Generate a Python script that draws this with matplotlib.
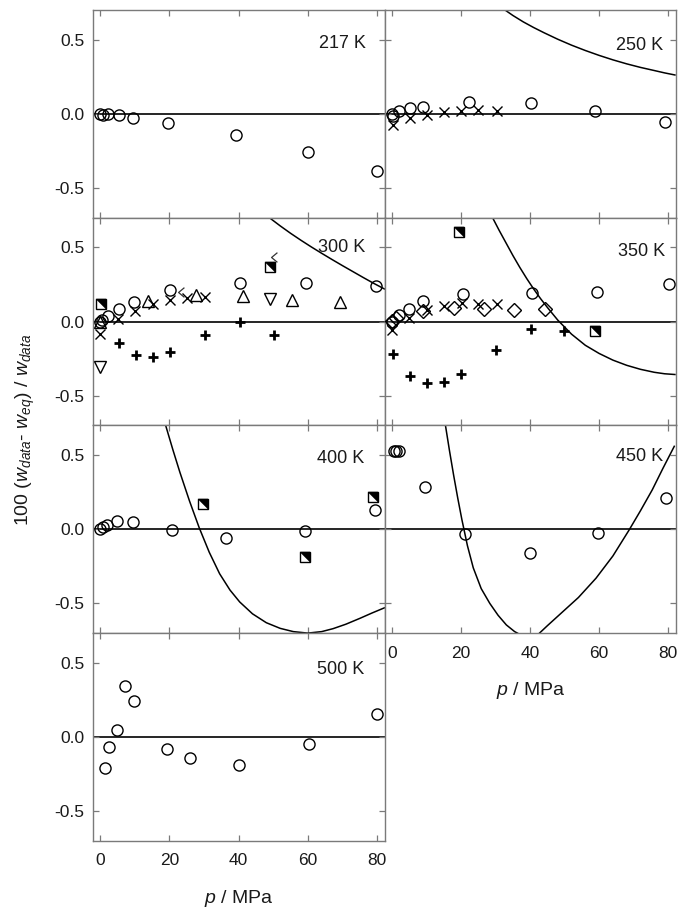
import matplotlib
matplotlib.use('Agg')
import matplotlib.pyplot as plt
from matplotlib.path import Path

plt.rcParams['font.family'] = ['Liberation Sans', 'DejaVu Sans']
plt.rcParams['mathtext.fontset'] = 'custom'
plt.rcParams['mathtext.rm'] = 'Liberation Sans'
plt.rcParams['mathtext.it'] = 'Liberation Sans:italic'

# ---------------- data ----------------
xticks = [0, 20, 40, 60, 80]
yticks = [-0.5, 0.0, 0.5]
yticklabels = ['-0.5', '0.0', '0.5']

# 217 K
p217_o = [0, 0.8, 2.2, 5.4, 9.4, 19.6, 39.1, 60.1, 80.0]
d217_o = [0.0, -0.005, -0.003, -0.01, -0.03, -0.06, -0.145, -0.255, -0.385]

# 250 K
p250_o = [0.0, 0.2, 2.1, 5.1, 8.9, 22.4, 40.1, 58.9, 79.0]
d250_o = [0.0, -0.012, 0.016, 0.038, 0.049, 0.083, 0.072, 0.022, -0.056]
p250_x = [0.2, 5.1, 10.1, 15.1, 19.9, 25.0, 30.3]
d250_x = [-0.074, -0.03, -0.007, 0.01, 0.02, 0.027, 0.016]
p250_c = [31.0, 32.7, 35.0, 38.0, 41.0, 44.0, 48.0, 52.0, 56.0, 60.0, 64.0, 68.0, 72.0, 76.0, 79.0, 82.0]
d250_c = [0.73, 0.70, 0.663, 0.62, 0.582, 0.547, 0.503, 0.463, 0.427, 0.394, 0.364, 0.337, 0.313, 0.292, 0.276, 0.262]

# 300 K
p300_o = [0.0, 0.5, 2.2, 5.4, 9.7, 20.1, 40.3, 59.4, 79.6]
d300_o = [0.0, 0.01, 0.04, 0.083, 0.135, 0.21, 0.257, 0.257, 0.24]
p300_tu = [0.0, 13.8, 27.8, 41.3, 55.3, 69.3]
d300_tu = [0.0, 0.14, 0.18, 0.173, 0.146, 0.135]
p300_td = [0.0, 49.2]
d300_td = [-0.304, 0.151]
p300_x = [0.0, 5.1, 9.9, 15.2, 20.1, 25.1, 30.2]
d300_x = [-0.086, 0.016, 0.068, 0.117, 0.146, 0.158, 0.167]
p300_lt = [23.4, 50.3]
d300_lt = [0.198, 0.432]
p300_p = [5.3, 10.2, 15.2, 20.1, 30.2, 40.3, 50.3]
d300_p = [-0.146, -0.225, -0.236, -0.203, -0.09, -0.005, -0.09]
p300_s = [0.3, 49.2]
d300_s = [0.117, 0.367]
p300_c = [47.5, 49.0, 52.0, 55.0, 58.0, 61.0, 64.0, 67.0, 70.0, 73.0, 76.0, 79.0, 82.1]
d300_c = [0.73, 0.698, 0.645, 0.595, 0.548, 0.503, 0.46, 0.418, 0.377, 0.337, 0.297, 0.258, 0.22]

# 350 K
p350_o = [0.0, 1.9, 4.8, 8.9, 20.6, 40.5, 59.5, 80.4]
d350_o = [0.0, 0.045, 0.086, 0.14, 0.185, 0.19, 0.2, 0.254]
p350_d = [0.0, 1.0, 8.9, 17.8, 26.7, 35.3, 44.2]
d350_d = [0.005, 0.025, 0.068, 0.09, 0.083, 0.079, 0.086]
p350_x = [0.0, 4.8, 10.1, 15.1, 20.2, 25.0, 30.3]
d350_x = [-0.056, 0.023, 0.079, 0.108, 0.124, 0.117, 0.117]
p350_p = [0.2, 5.1, 10.1, 15.1, 20.0, 30.0, 40.1, 49.9]
d350_p = [-0.22, -0.365, -0.417, -0.405, -0.356, -0.191, -0.052, -0.061]
p350_s = [19.5, 58.8]
d350_s = [0.604, -0.061]
p350_c = [28.0, 29.1, 31.0, 33.0, 35.0, 37.0, 39.0, 41.0, 43.0, 45.0, 48.0, 52.0, 56.0, 60.0, 64.0, 68.0, 72.0, 76.0, 79.0, 82.0]
d350_c = [0.75, 0.70, 0.615, 0.53, 0.445, 0.365, 0.29, 0.22, 0.155, 0.095, 0.01, -0.085, -0.16, -0.215, -0.26, -0.295, -0.322, -0.342, -0.352, -0.357]

# 400 K
p400_o = [0.0, 0.8, 1.9, 4.9, 9.5, 20.8, 36.2, 59.3, 79.4]
d400_o = [0.0, 0.016, 0.03, 0.056, 0.052, -0.005, -0.061, -0.009, 0.13]
p400_s = [29.7, 59.1, 78.8]
d400_s = [0.173, -0.187, 0.218]
p400_c = [18.3, 18.9, 21.0, 23.0, 25.8, 28.6, 31.5, 34.5, 37.5, 40.3, 44.0, 48.0, 52.0, 55.8, 60.0, 64.0, 67.3, 71.0, 75.1, 78.5, 82.1]
d400_c = [0.75, 0.70, 0.535, 0.385, 0.19, 0.01, -0.155, -0.30, -0.41, -0.49, -0.57, -0.63, -0.668, -0.69, -0.70, -0.69, -0.67, -0.64, -0.60, -0.565, -0.53]

# 450 K
p450_o = [0.5, 1.2, 2.1, 9.4, 21.1, 39.9, 59.7, 79.4]
d450_o = [0.525, 0.525, 0.525, 0.284, -0.034, -0.158, -0.027, 0.214]
p450_c = [15.0, 15.4, 16.6, 17.8, 19.0, 20.2, 21.8, 23.5, 25.8, 28.3, 30.7, 33.1, 35.5, 37.9, 40.0, 41.8, 45.0, 49.5, 54.0, 59.1, 64.0, 68.7, 72.0, 75.4, 78.5, 81.8]
d450_c = [0.76, 0.705, 0.53, 0.365, 0.21, 0.065, -0.11, -0.26, -0.40, -0.50, -0.58, -0.645, -0.69, -0.72, -0.735, -0.72, -0.65, -0.555, -0.46, -0.33, -0.18, -0.005, 0.125, 0.265, 0.41, 0.559]

# 500 K
p500_o = [1.5, 2.4, 4.9, 7.2, 9.8, 19.3, 25.9, 40.0, 60.3, 80.0]
d500_o = [-0.209, -0.068, 0.05, 0.345, 0.245, -0.081, -0.144, -0.191, -0.05, 0.153]

labels = ['217 K', '250 K', '300 K', '350 K', '400 K', '450 K', '500 K']
label_pos = [(0.853, 0.84), (0.875, 0.827), (0.853, 0.855), (0.883, 0.838),
             (0.848, 0.84), (0.875, 0.85), (0.848, 0.827)]

# ---------------- figure ----------------
W, H = 680, 907
fig = plt.figure(figsize=(W / 100, H / 100), dpi=100)

lefts = [93, 385]
widths = [292, 291]
tops = [10, 217.7, 425.4, 633.1]
ph = 207.7

def make_ax(col, row):
    ax = fig.add_axes([lefts[col] / W, 1 - (tops[row] + ph) / H, widths[col] / W, ph / H])
    ax.set_xlim(-2.1, 82.3)
    ax.set_ylim(-0.7, 0.7)
    ax.set_xticks(xticks)
    ax.set_yticks(yticks)
    ax.set_yticklabels(yticklabels)
    for s in ax.spines.values():
        s.set_color('#7a7a7a')
        s.set_linewidth(1.0)
    ax.tick_params(direction='in', top=True, right=True, length=4, width=0.9,
                   color='#7a7a7a', labelsize=12.5, labelcolor='#1a1a1a')
    ax.tick_params(axis='x', pad=9)
    ax.tick_params(axis='y', pad=6)
    ax.axhline(0, color='k', lw=1.2, zorder=1)
    return ax

ax217 = make_ax(0, 0)
ax250 = make_ax(1, 0)
ax300 = make_ax(0, 1)
ax350 = make_ax(1, 1)
ax400 = make_ax(0, 2)
ax450 = make_ax(1, 2)
ax500 = make_ax(0, 3)
axes = [ax217, ax250, ax300, ax350, ax400, ax450, ax500]

for ax in axes:
    if ax not in (ax450, ax500):
        ax.tick_params(labelbottom=False)
for ax in (ax250, ax350, ax450):
    ax.tick_params(labelleft=False)

chev = Path([(0.6, 1.0), (-0.6, 0.0), (0.6, -1.0)], [Path.MOVETO, Path.LINETO, Path.LINETO])
half_tri = Path([(-1, 1), (1, 1), (1, -1), (-1, 1)],
                [Path.MOVETO, Path.LINETO, Path.LINETO, Path.CLOSEPOLY])

def circ(ax, p, d):
    ax.plot(p, d, 'o', ms=8, mfc='none', mec='k', mew=1.0, ls='none', zorder=3)

def cross(ax, p, d):
    ax.plot(p, d, 'x', ms=7.5, mec='k', mew=1.0, ls='none', zorder=3)

def plus(ax, p, d):
    ax.plot(p, d, '+', ms=7, mec='k', mew=2.0, ls='none', zorder=3)

def tri_up(ax, p, d):
    ax.plot(p, d, '^', ms=8, mfc='none', mec='k', mew=1.0, ls='none', zorder=3)

def tri_down(ax, p, d):
    ax.plot(p, d, 'v', ms=8, mfc='none', mec='k', mew=1.0, ls='none', zorder=3)

def diam(ax, p, d):
    ax.plot(p, d, 'D', ms=7, mfc='none', mec='k', mew=1.0, ls='none', zorder=3)

def chevron(ax, p, d):
    ax.plot(p, d, marker=chev, ms=7, mfc='none', mec='#333333', mew=0.9, ls='none', zorder=3)

def halfsq(ax, p, d):
    ax.plot(p, d, 's', ms=6.5, mfc='white', mec='k', mew=1.0, ls='none', zorder=3)
    ax.plot(p, d, marker=half_tri, ms=6.5, mfc='k', mec='k', mew=0.3, ls='none', zorder=4)

def curve(ax, p, d):
    ax.plot(p, d, '-', color='k', lw=1.1, zorder=2, solid_joinstyle='round')

circ(ax217, p217_o, d217_o)

curve(ax250, p250_c, d250_c)
circ(ax250, p250_o, d250_o)
cross(ax250, p250_x, d250_x)

curve(ax300, p300_c, d300_c)
circ(ax300, p300_o, d300_o)
tri_up(ax300, p300_tu, d300_tu)
tri_down(ax300, p300_td, d300_td)
cross(ax300, p300_x, d300_x)
chevron(ax300, p300_lt, d300_lt)
plus(ax300, p300_p, d300_p)
halfsq(ax300, p300_s, d300_s)

curve(ax350, p350_c, d350_c)
circ(ax350, p350_o, d350_o)
diam(ax350, p350_d, d350_d)
cross(ax350, p350_x, d350_x)
plus(ax350, p350_p, d350_p)
halfsq(ax350, p350_s, d350_s)

curve(ax400, p400_c, d400_c)
circ(ax400, p400_o, d400_o)
halfsq(ax400, p400_s, d400_s)

curve(ax450, p450_c, d450_c)
circ(ax450, p450_o, d450_o)

circ(ax500, p500_o, d500_o)

for ax, lab, (lx, ly) in zip(axes, labels, label_pos):
    ax.text(lx, ly, lab, transform=ax.transAxes, ha='center', va='center',
            fontsize=13, color='#1a1a1a')

for ax in (ax450, ax500):
    ax.set_xlabel('$p$ / MPa', fontsize=14, labelpad=14, color='#1a1a1a')

fig.text(25 / W, 1 - 430 / H,
         '100 ($w_{data}$- $w_{eq}$) / $w_{data}$',
         rotation=90, ha='center', va='center', fontsize=14, color='#1a1a1a')

fig.savefig('out.png', dpi=100)
